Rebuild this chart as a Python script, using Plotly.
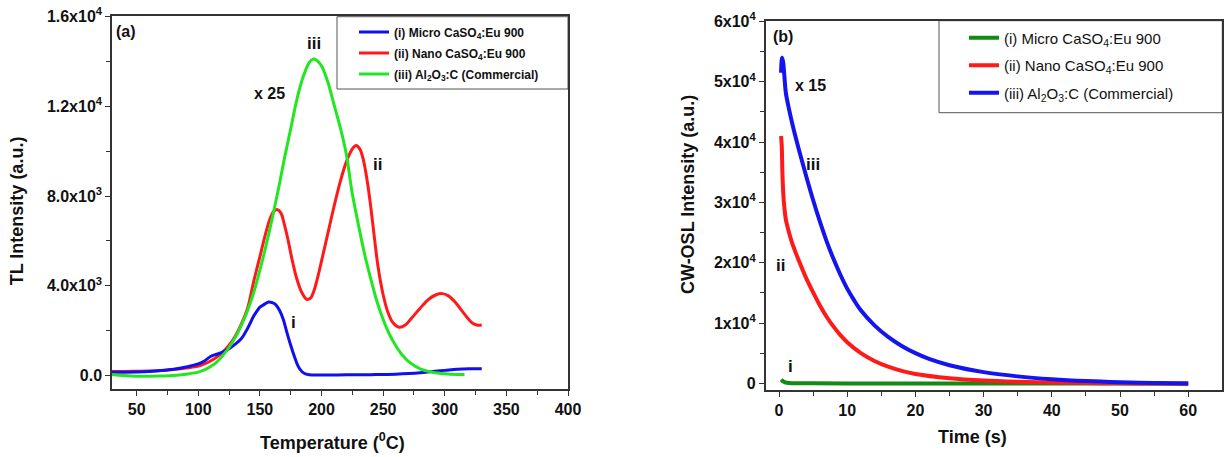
import plotly.graph_objects as go

# ---------------- data: panel (a) TL glow curves ----------------
tl_temp_i = [30, 40, 50, 60, 70, 80, 90, 100, 105, 110, 115, 120, 125, 130, 135, 140, 145, 148, 150,
             153, 157, 160, 163, 166, 169, 172, 175, 178, 181, 184, 187, 190, 200, 220, 240, 260, 280,
             290, 300, 310, 320, 330]
tl_micro = [150, 150, 160, 180, 220, 280, 380, 520, 650, 850, 950, 1050, 1200, 1400, 1650, 2100, 2650,
            2900, 3050, 3150, 3280, 3250, 3150, 2900, 2500, 1900, 1350, 850, 420, 180, 70, 30, 20, 30,
            40, 60, 120, 180, 230, 280, 300, 300]

tl_temp_ii = [30, 40, 50, 60, 70, 80, 90, 100, 105, 110, 115, 120, 125, 130, 135, 140, 145, 150, 155,
              158, 161, 164, 167, 170, 173, 176, 180, 184, 188, 191, 194, 197, 200, 205, 210, 215, 220,
              225, 228, 231, 234, 237, 240, 243, 246, 250, 254, 258, 263, 268, 273, 280, 287, 293, 298,
              303, 308, 313, 318, 322, 326, 330]
tl_nano = [180, 180, 190, 200, 230, 270, 330, 420, 520, 650, 820, 1050, 1350, 1750, 2300, 3000, 4200,
           5300, 6400, 6950, 7300, 7400, 7250, 6700, 6000, 5200, 4300, 3700, 3400, 3450, 3800, 4400,
           5100, 6300, 7500, 8600, 9500, 10100, 10250, 10100, 9600, 8700, 7500, 6100, 4800, 3600, 2800,
           2350, 2150, 2250, 2550, 3000, 3400, 3600, 3650, 3550, 3300, 2950, 2600, 2350, 2250, 2250]

tl_temp_iii = [30, 40, 50, 60, 70, 80, 90, 100, 105, 110, 115, 120, 125, 130, 135, 140, 145, 150, 155,
               160, 165, 170, 175, 180, 185, 190, 193, 196, 200, 205, 210, 215, 220, 225, 230, 235, 240,
               245, 250, 255, 260, 265, 270, 280, 290, 300, 310, 316]
tl_al2o3 = [50, 0, -30, -30, -20, 0, 60, 150, 250, 400, 600, 900, 1250, 1700, 2250, 2900, 3700, 4700,
            5800, 7000, 8300, 9700, 11000, 12300, 13300, 13950, 14100, 14050, 13800, 13100, 12100, 11100,
            9900, 8100, 6700, 5400, 4300, 3300, 2500, 1850, 1350, 950, 650, 300, 150, 80, 50, 50]

# ---------------- data: panel (b) CW-OSL decay curves ----------------
osl_t_i = [0.3, 0.5, 0.8, 1.2, 2, 5, 10, 20, 30, 40, 50, 60]
osl_micro = [600, 400, 200, 80, 20, 0, -20, -30, -30, -40, -50, -60]

osl_t_ii = [0.3, 0.4, 0.5, 0.65, 0.8, 1.0, 1.4, 1.8, 2.4, 3, 4, 5, 6, 7, 8, 9, 10, 12, 14, 16, 18, 20,
            25, 30, 35, 40, 45, 50, 55, 60]
osl_nano = [41000, 39500, 35000, 31000, 29000, 27200, 25300, 23700, 21800, 20100, 17400, 15100, 12900,
            11000, 9400, 8000, 6800, 5000, 3700, 2750, 2050, 1550, 850, 470, 260, 130, 50, 0, -20, -40]

osl_t_iii = [0.3, 0.45, 0.6, 0.8, 1.0, 1.5, 2, 3, 4, 5, 6, 7, 8, 9, 10, 11, 12, 14, 16, 18, 20, 22, 25,
             30, 35, 40, 45, 50, 55, 60]
osl_al2o3 = [51500, 54000, 53300, 50800, 48200, 45300, 42800, 38400, 34300, 30400, 26800, 23500, 20600,
             18000, 15700, 13800, 12100, 9600, 7700, 6200, 5000, 4050, 3000, 1850, 1150, 680, 370, 170,
             40, -50]

names = ["(i) Micro CaSO<sub>4</sub>:Eu 900",
         "(ii) Nano CaSO<sub>4</sub>:Eu 900",
         "(iii) Al<sub>2</sub>O<sub>3</sub>:C (Commercial)"]

tl_y_ticks = [0, 4000, 8000, 12000, 16000]
tl_y_text = ["0.0", "4.0x10<sup>3</sup>", "8.0x10<sup>3</sup>", "1.2x10<sup>4</sup>", "1.6x10<sup>4</sup>"]
tl_x_ticks = [50, 100, 150, 200, 250, 300, 350, 400]
osl_y_ticks = [0, 10000, 20000, 30000, 40000, 50000, 60000]
osl_y_text = ["0", "1x10<sup>4</sup>", "2x10<sup>4</sup>", "3x10<sup>4</sup>", "4x10<sup>4</sup>",
              "5x10<sup>4</sup>", "6x10<sup>4</sup>"]
osl_x_ticks = [0, 10, 20, 30, 40, 50, 60]

W, H = 1225, 457
FONT = "Liberation Sans, Arial, sans-serif"
INK = "#111111"


def px(x):
    return x / W


def py(y):
    return 1 - y / H


fig = go.Figure()

# panel (a)
fig.add_trace(go.Scatter(x=tl_temp_ii, y=tl_nano, mode="lines", name=names[1],
                         line=dict(color="#ff1a1a", width=3, shape="spline"),
                         xaxis="x", yaxis="y", legend="legend", legendrank=2, legendgroup="a2"))
fig.add_trace(go.Scatter(x=tl_temp_i, y=tl_micro, mode="lines", name=names[0],
                         line=dict(color="#1010ee", width=3, shape="spline"),
                         xaxis="x", yaxis="y", legend="legend", legendrank=1, legendgroup="a1"))
fig.add_trace(go.Scatter(x=tl_temp_iii, y=tl_al2o3, mode="lines", name=names[2],
                         line=dict(color="#22e622", width=3, shape="spline"),
                         xaxis="x", yaxis="y", legend="legend", legendrank=3, legendgroup="a3"))

# panel (b)
fig.add_trace(go.Scatter(x=osl_t_i, y=osl_micro, mode="lines", name=names[0],
                         line=dict(color="#138a13", width=4, shape="spline"),
                         xaxis="x2", yaxis="y2", legend="legend2", legendrank=1, legendgroup="b1"))
fig.add_trace(go.Scatter(x=osl_t_ii, y=osl_nano, mode="lines", name=names[1],
                         line=dict(color="#ff1a1a", width=4, shape="spline"),
                         xaxis="x2", yaxis="y2", legend="legend2", legendrank=2, legendgroup="b2"))
fig.add_trace(go.Scatter(x=osl_t_iii, y=osl_al2o3, mode="lines", name=names[2],
                         line=dict(color="#1414f0", width=4, shape="spline"),
                         xaxis="x2", yaxis="y2", legend="legend2", legendrank=3, legendgroup="b3"))

axis_common = dict(showline=True, linecolor="#333333", linewidth=1.5, mirror=True,
                   ticks="outside", ticklen=5, tickwidth=1.2, tickcolor="#333333",
                   showgrid=False, zeroline=False, automargin=False,
                   tickfont=dict(family=FONT, size=16, color=INK, weight="bold"))
minor_common = dict(ticks="outside", ticklen=4, tickcolor="#333333", showgrid=False)

fig.update_layout(
    width=W, height=H, autosize=False,
    margin=dict(l=0, r=0, t=0, b=0, pad=0),
    paper_bgcolor="white", plot_bgcolor="white",
    xaxis=dict(domain=[px(112), px(568)], range=[30, 400], anchor="y",
               tickmode="array", tickvals=tl_x_ticks,
               minor=dict(tickvals=[75, 125, 175, 225, 275, 325, 375], **minor_common),
               **axis_common),
    yaxis=dict(domain=[py(389), py(15.7)], range=[-600, 16036], anchor="x",
               tickmode="array", tickvals=tl_y_ticks, ticktext=tl_y_text,
               minor=dict(tickvals=[2000, 6000, 10000, 14000], **minor_common),
               **axis_common),
    xaxis2=dict(domain=[px(765.7), px(1222.3)], range=[-1.95, 65], anchor="y2",
                tickmode="array", tickvals=osl_x_ticks,
                minor=dict(tickvals=[5, 15, 25, 35, 45, 55], **minor_common),
                **axis_common),
    yaxis2=dict(domain=[py(390), py(20.7)], range=[-1110, 60130], anchor="x2",
                tickmode="array", tickvals=osl_y_ticks, ticktext=osl_y_text,
                minor=dict(tickvals=[5000, 15000, 25000, 35000, 45000, 55000], **minor_common),
                **axis_common),
    legend=dict(x=px(354), y=py(17.5), xanchor="left", yanchor="top",
                bgcolor="rgba(0,0,0,0)", borderwidth=0,
                font=dict(family=FONT, size=12, color=INK, weight="bold"),
                tracegroupgap=2, itemwidth=30),
    legend2=dict(x=px(964), y=py(21.5), xanchor="left", yanchor="top",
                 bgcolor="rgba(0,0,0,0)", borderwidth=0,
                 font=dict(family=FONT, size=15, color=INK),
                 tracegroupgap=5, itemwidth=30),
    showlegend=True,
    shapes=[
        # legend frames
        dict(type="rect", xref="paper", yref="paper", x0=px(337), x1=px(568), y0=py(89), y1=py(16.7),
             line=dict(color="#555555", width=1), fillcolor="white", layer="below"),
        dict(type="rect", xref="paper", yref="paper", x0=px(939), x1=px(1222.3), y0=py(112.7), y1=py(20.7),
             line=dict(color="#555555", width=1), fillcolor="white", layer="below"),
    ],
)

annotations = [
    # axis titles
    dict(text="TL Intensity (a.u.)", x=px(17.3), y=py(211), textangle=-90,
         font=dict(family=FONT, size=18, color=INK, weight="bold")),
    dict(text="Temperature (<sup>0</sup>C)", x=px(332.6), y=py(441.7),
         font=dict(family=FONT, size=18, color=INK, weight="bold")),
    dict(text="CW-OSL Intensity (a.u.)", x=px(688), y=py(195), textangle=-90,
         font=dict(family=FONT, size=18, color=INK, weight="bold")),
    dict(text="Time (s)", x=px(972.3), y=py(436.7),
         font=dict(family=FONT, size=18, color=INK, weight="bold")),
    # panel labels
    dict(text="(a)", x=px(126), y=py(31.7), font=dict(family=FONT, size=16, color=INK, weight="bold")),
    dict(text="(b)", x=px(783), y=py(36.7), font=dict(family=FONT, size=16, color=INK, weight="bold")),
]
for a in annotations:
    a.update(xref="paper", yref="paper", showarrow=False, xanchor="center", yanchor="middle")

# curve labels in data coordinates
curve_labels = [
    ("x", "y", "iii", 193.7, 14787, 17),
    ("x", "y", "x 25", 158, 12590, 16),
    ("x", "y", "ii", 245.8, 9422, 17),
    ("x", "y", "i", 177.6, 2369, 17),
    ("x2", "y2", "x 15", 4.55, 49400, 16),
    ("x2", "y2", "iii", 4.95, 36300, 17),
    ("x2", "y2", "ii", 0.15, 19600, 17),
    ("x2", "y2", "i", 1.7, 2750, 17),
]
for xr, yr, t, xv, yv, fs in curve_labels:
    annotations.append(dict(text=t, x=xv, y=yv, xref=xr, yref=yr, showarrow=False,
                            xanchor="center", yanchor="middle",
                            font=dict(family=FONT, size=fs, color=INK, weight="bold")))

fig.update_layout(annotations=annotations)
fig.write_html("out.html",
               config={"displayModeBar": False},
               post_script="document.body.style.margin='0';document.body.style.overflow='hidden';")
